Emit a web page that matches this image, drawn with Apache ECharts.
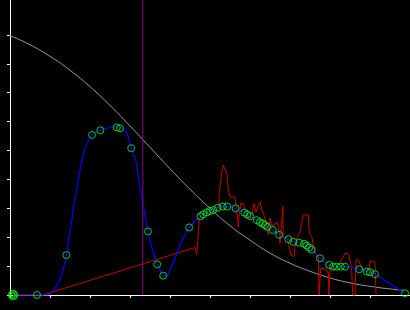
<!DOCTYPE html>
<html>
<head>
<meta charset="utf-8">
<script src="https://cdn.jsdelivr.net/npm/echarts@6/dist/echarts.min.js"></script>
<style>html,body{margin:0;padding:0;background:#000}#c{width:410px;height:310px}</style>
</head>
<body>
<div id="c"></div>
<script>
// Grey reference curve
var greyCurve = [[-0.25,9.12],[0,8.98],[0.5,8.66],[1,8.26],[1.5,7.78],[2,7.21],[2.5,6.56],[3,5.85],[3.5,5.11],[4,4.37],[4.5,3.66],[5,3.0],[5.5,2.4],[6,1.9],[6.5,1.45],[7,1.1],[7.5,0.82],[8,0.59],[8.5,0.42],[9,0.3],[9.5,0.21],[9.85,0.16]];
// Blue fitted curve
var blueCurve = [[0.075,0],[0.675,0],[0.83,0],[1.0,0.02],[1.125,0.23],[1.25,0.52],[1.33,0.87],[1.41,1.38],[1.475,1.96],[1.54,2.54],[1.6,3.12],[1.67,3.69],[1.75,4.33],[1.83,4.85],[1.93,5.25],[2.05,5.54],[2.25,5.71],[2.5,5.80],[2.67,5.83],[2.79,5.77],[2.92,5.60],[3.03,5.08],[3.125,4.75],[3.18,4.39],[3.23,3.92],[3.33,3.12],[3.45,2.20],[3.54,1.67],[3.68,1.06],[3.77,0.81],[3.83,0.67],[3.92,0.67],[4.0,0.87],[4.125,1.27],[4.25,1.73],[4.375,2.08],[4.48,2.34],[4.625,2.56],[4.76,2.72],[4.83,2.79],[4.92,2.86],[5.0,2.91],[5.08,2.94],[5.19,3.02],[5.32,3.06],[5.43,3.06],[5.64,3.00],[5.86,2.85],[5.93,2.79],[6.0,2.73],[6.17,2.59],[6.25,2.52],[6.32,2.47],[6.375,2.42],[6.43,2.36],[6.57,2.25],[6.73,2.08],[6.96,1.93],[7.08,1.84],[7.23,1.81],[7.35,1.77],[7.42,1.71],[7.48,1.64],[7.54,1.57],[7.75,1.27],[7.98,1.04],[8.08,0.98],[8.17,0.98],[8.27,0.98],[8.375,0.98],[8.73,0.89],[8.92,0.81],[9.0,0.79],[9.125,0.72],[9.875,0.06]];
// Green sample markers
var samplePoints = [[0.04,0],[0.11,0],[0.075,0.05],[0.075,-0.05],[0.675,0],[1.41,1.38],[2.05,5.54],[2.26,5.70],[2.67,5.80],[2.75,5.77],[3.03,5.08],[3.45,2.20],[3.68,1.06],[3.83,0.67],[4.48,2.34],[4.76,2.72],[4.83,2.79],[4.92,2.86],[5.0,2.91],[5.08,2.94],[5.19,3.02],[5.32,3.06],[5.43,3.06],[5.64,3.00],[5.86,2.85],[5.93,2.79],[6.0,2.73],[6.17,2.59],[6.25,2.52],[6.32,2.47],[6.375,2.42],[6.43,2.36],[6.57,2.25],[6.73,2.08],[6.96,1.93],[7.08,1.84],[7.23,1.81],[7.35,1.77],[7.42,1.71],[7.48,1.64],[7.54,1.57],[7.75,1.27],[7.98,1.04],[8.08,0.98],[8.17,0.98],[8.27,0.98],[8.375,0.98],[8.73,0.89],[8.92,0.81],[9.0,0.79],[9.125,0.72],[9.875,0.06]];
// Red raw signal
var redSignal = [[0.075,0],[0.825,0],[4.625,1.64],[4.67,1.41],[4.73,2.60],[4.79,2.77],[4.875,2.84],[5.0,2.91],[5.125,2.98],[5.225,3.12],[5.23,3.52],[5.29,4.21],[5.33,4.50],[5.375,4.56],[5.42,4.21],[5.46,3.63],[5.5,3.39],[5.625,3.39],[5.65,3.12],[5.68,2.83],[5.71,2.36],[5.73,2.77],[5.77,3.17],[5.83,3.17],[5.875,2.94],[5.925,2.80],[6.0,2.60],[6.05,2.77],[6.1,3.17],[6.15,2.87],[6.21,3.12],[6.25,3.23],[6.3,2.94],[6.35,2.77],[6.4,2.53],[6.46,2.08],[6.5,2.67],[6.55,2.39],[6.625,2.46],[6.675,2.53],[6.725,2.25],[6.75,1.79],[6.8,1.79],[6.82,3.06],[6.83,1.96],[6.92,2.02],[6.98,1.67],[7.02,1.38],[7.1,1.33],[7.13,1.73],[7.18,2.02],[7.25,2.19],[7.3,2.15],[7.33,2.77],[7.46,2.77],[7.475,2.31],[7.5,2.08],[7.55,2.01],[7.58,1.73],[7.625,1.50],[7.67,1.44],[7.71,1.27],[7.725,0],[7.75,0],[7.77,0.92],[7.875,0.92],[7.96,0.75],[7.975,0],[8.0,0.92],[8.1,0.87],[8.21,1.04],[8.29,1.21],[8.375,1.44],[8.46,1.42],[8.5,1.21],[8.54,0.87],[8.57,0],[8.625,0],[8.65,1.21],[8.71,1.21],[8.8,0.93],[8.9,0.80],[8.975,0.87],[9.0,1.15],[9.125,1.15],[9.15,0]];
// Purple marker position
var markerX = 3.32;
var yTicks = [0,1,2,3,4,5,6,7,8,9];
var xMin = 0, xMax = 10, yMin = 0, yMax = 10.21;

var chart = echarts.init(document.getElementById('c'), null, {renderer: 'canvas'});
chart.setOption({
  backgroundColor: '#000',
  animation: false,
  grid: {left: 10, right: 0, top: 0, bottom: 15, containLabel: false},
  xAxis: {
    type: 'value', min: xMin, max: xMax, interval: 1,
    axisLine: {show: true, onZero: false, lineStyle: {color: '#fff', width: 1}},
    axisTick: {show: true, length: 3, inside: false, lineStyle: {color: '#fff'}},
    axisLabel: {show: false},
    splitLine: {show: false}
  },
  yAxis: {
    type: 'value', min: yMin, max: yMax, interval: 1,
    axisLine: {show: true, onZero: false, lineStyle: {color: '#fff', width: 1}},
    axisTick: {show: true, length: 3, inside: false, customValues: yTicks, lineStyle: {color: '#fff'}},
    axisLabel: {show: false, customValues: yTicks},
    splitLine: {show: false}
  },
  series: [
    {type: 'line', data: greyCurve, smooth: 0.5, showSymbol: false, clip: false,
     lineStyle: {color: '#9a9a9a', width: 1}, z: 2},
    {type: 'line', data: redSignal, smooth: false, showSymbol: false, clip: false,
     lineStyle: {color: '#c80000', width: 1}, z: 3},
    {type: 'line', data: blueCurve, smooth: 0.3, showSymbol: false, clip: false,
     lineStyle: {color: '#0000ff', width: 1.2}, z: 4},
    {type: 'scatter', data: samplePoints, symbol: 'circle', symbolSize: 7, clip: false,
     itemStyle: {color: 'rgba(0,0,0,0)', borderColor: '#00ff00', borderWidth: 1}, z: 5},
    {type: 'line', data: [[markerX, yMin], [markerX, yMax]], showSymbol: false, clip: false,
     lineStyle: {color: '#8c0096', width: 1}, z: 6}
  ]
});
</script>
</body>
</html>
